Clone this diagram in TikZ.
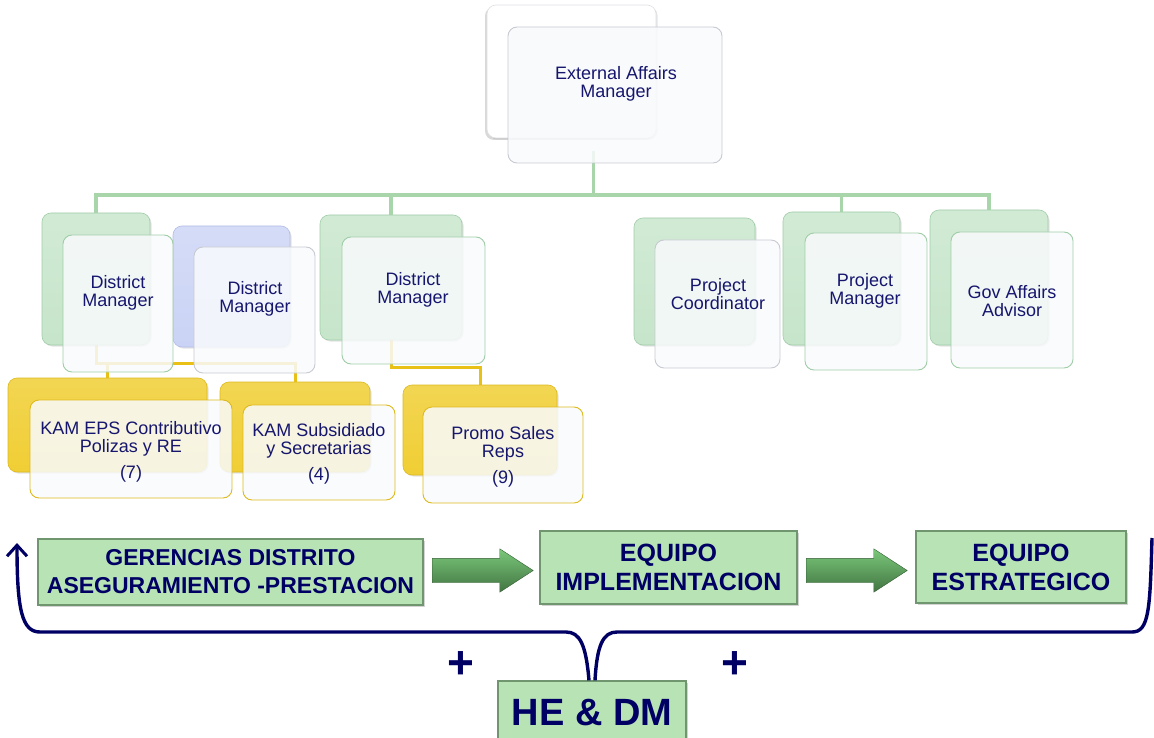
\documentclass[tikz,border=0pt]{standalone}
\usepackage{fontspec}
\setmainfont{Liberation Sans}
\usetikzlibrary{arrows.meta,positioning,shapes.arrows,calc,shadows,backgrounds}

\definecolor{heText}{RGB}{22,22,110}
\definecolor{heNavy}{RGB}{0,0,100}
\definecolor{heGreen}{RGB}{198,229,202}
\definecolor{heGreenEdge}{RGB}{160,205,168}
\definecolor{heBlue}{RGB}{202,211,245}
\definecolor{heBlueEdge}{RGB}{178,188,230}
\definecolor{heGold}{RGB}{240,206,52}
\definecolor{heGoldEdge}{RGB}{222,186,30}
\definecolor{heFront}{RGB}{248,250,252}
\definecolor{heGrayEdge}{RGB}{200,202,210}
\definecolor{heLink}{RGB}{168,214,170}
\definecolor{heGoldLink}{RGB}{232,192,22}
\definecolor{heStage}{RGB}{184,228,181}
\definecolor{heStageEdge}{RGB}{112,150,112}
\definecolor{heArrowLight}{RGB}{122,200,122}
\definecolor{heArrowDark}{RGB}{66,116,66}

\begin{document}
\begin{tikzpicture}[x=1pt, y=-1pt,
    box/.style 2 args={minimum width=#1pt, minimum height=#2pt},
    orgback/.style={rectangle, rounded corners=9pt, inner sep=0pt, line width=0.6pt,
                    drop shadow={opacity=0.22, shadow xshift=1.5pt, shadow yshift=-1.5pt}},
    greenback/.style={orgback, draw=heGreenEdge, top color=heGreen!80!white, bottom color=heGreen},
    blueback/.style={orgback, draw=heBlueEdge, top color=heBlue!80!white, bottom color=heBlue},
    goldback/.style={orgback, draw=heGoldEdge, top color=heGold!85!white, bottom color=heGold},
    grayback/.style={orgback, draw=heGrayEdge!60!white, fill=white,
                     drop shadow={opacity=0.3, shadow xshift=-2pt, shadow yshift=-2pt}},
    orgfront/.style={rectangle, rounded corners=9pt, inner sep=0pt, fill=heFront,
                     fill opacity=0.86, line width=0.9pt},
    orgtxt/.style={font=\fontsize{18}{18}\selectfont, text=heText, align=center},
    stagebox/.style={rectangle, fill=heStage, draw=heStageEdge, line width=1.2pt,
                     inner sep=0pt, font=\fontsize{25}{29}\selectfont\bfseries,
                     text=heNavy, align=center,
                     drop shadow={opacity=0.35, shadow xshift=1.5pt, shadow yshift=-1.5pt}},
    stagearrow/.style={single arrow, single arrow head extend=9.5pt,
                       single arrow tip angle=66, inner sep=12pt,
                       minimum height=101pt, top color=heArrowLight,
                       bottom color=heArrowDark, draw=heArrowDark!80!black,
                       line width=0.4pt, anchor=tail},
    plustxt/.style={font=\fontsize{46}{46}\selectfont\bfseries, text=heNavy},
    greenlink/.style={draw=heLink, line width=3.2pt},
    goldlink/.style={draw=heGoldLink, line width=3pt},
    loopline/.style={draw=heNavy, line width=3.4pt}
  ]
  \useasboundingbox (0,0) rectangle (1154,738);

  % top
  \node[grayback, box={169}{133}] (eamback) at (571.5,71.5) {};
  \node[orgfront, draw=heGrayEdge, box={214}{136}] (eam) at (615,95) {};
  \node[orgtxt] (eamtxt) at (616,84) {External Affairs\\Manager};

  % district managers
  \node[greenback, box={108}{132}] (dm1back) at (96,279) {};
  \node[blueback, box={117}{121}] (dm2back) at (231.5,286.5) {};
  \node[greenback, box={142}{125}] (dm3back) at (391,277.5) {};
  \node[orgfront, draw=heGreenEdge, box={110}{137}] (dm1) at (118,303.5) {};
  \node[orgfront, draw=heGrayEdge, box={121}{126}] (dm2) at (254.5,310) {};
  \node[orgfront, draw=heGreenEdge, box={143}{127}] (dm3) at (413.5,300.5) {};
  \node[orgtxt] (dm1txt) at (118,293) {District\\Manager};
  \node[orgtxt] (dm2txt) at (255,299) {District\\Manager};
  \node[orgtxt] (dm3txt) at (413,290) {District\\Manager};

  % key accounts and reps
  \node[goldback, box={199}{94}] (kam1back) at (107.5,425) {};
  \node[goldback, box={150}{90}] (kam2back) at (295,427) {};
  \node[goldback, box={154}{90}] (promoback) at (480,430) {};
  \node[orgfront, draw=heGoldEdge, box={202}{98}] (kam1) at (131,449) {};
  \node[orgfront, draw=heGoldEdge, box={152}{95}] (kam2) at (319,452.5) {};
  \node[orgfront, draw=heGoldEdge, box={160}{96}] (promo) at (503,455) {};
  \node[orgtxt] (kam1txt) at (131,452) {KAM EPS Contributivo\\Polizas y RE\\[8pt](7)};
  \node[orgtxt] (kam2txt) at (319,454) {KAM Subsidiado\\y Secretarias\\[8pt](4)};
  \node[orgtxt] (promotxt) at (503,457) {Promo Sales\\Reps\\[8pt](9)};

  % staff
  \node[greenback, box={121}{127}] (pcback) at (694.5,281.5) {};
  \node[greenback, box={117}{133}] (pmback) at (841.5,278.5) {};
  \node[greenback, box={118}{135}] (gaback) at (989,277.5) {};
  \node[orgfront, draw=heGrayEdge, box={125}{128}] (pc) at (717.5,304) {};
  \node[orgfront, draw=heGreenEdge, box={122}{137}] (pm) at (866,301.5) {};
  \node[orgfront, draw=heGreenEdge, box={122}{136}] (ga) at (1012,300) {};
  \node[orgtxt] (pctxt) at (718,294) {Project\\Coordinator};
  \node[orgtxt] (pmtxt) at (865,291) {Project\\Manager};
  \node[orgtxt] (gatxt) at (1012,301) {Gov Affairs\\Advisor};

  % links
  \coordinate (obus) at (0,195);
  \coordinate (kbus) at (0,363);
  \coordinate (pbus) at (0,367);
  \coordinate (eamlink) at ($(eamback.south)!.5!(eam.south)$);
  \begin{scope}[on background layer]
    \draw[greenlink] (dm1back.north) |- (obus -| gaback.north) -- (gaback.north);
    \draw[greenlink] (eamlink) -- (eamlink |- obus);
    \draw[greenlink] (dm3back.north) -- (dm3back.north |- obus);
    \draw[greenlink] (pmback.north) -- (pmback.north |- obus);
    \draw[goldlink] (dm1back.south) |- (kbus -| kam2back.north) -- (kam2back.north);
    \draw[goldlink] (kam1back.north) -- (kam1back.north |- kbus);
    \draw[goldlink] (dm3back.south) |- (pbus -| promoback.north) -- (promoback.north);
  \end{scope}

  % stages
  \node[stagebox, box={385}{66}, font=\fontsize{23}{28}\selectfont\bfseries] (ger) at (230.5,572)
    {GERENCIAS DISTRITO\\ASEGURAMIENTO -PRESTACION};
  \node[stagebox, box={257}{73}] (imp) at (668.5,567.5) {EQUIPO\\IMPLEMENTACION};
  \node[stagebox, box={210}{72}] (est) at (1021,567) {EQUIPO\\ESTRATEGICO};
  \node[stagearrow] (arr1) at (432,570.5) {};
  \node[stagearrow] (arr2) at (806,570.5) {};

  \node[stagebox, box={188}{64}, font=\fontsize{38}{40}\selectfont\bfseries] (heb) at (592,713) {HE \& DM};
  \node[plustxt] (plusL) at (461,665) {+};
  \node[plustxt] (plusR) at (735,665) {+};

  % loop back
  \coordinate (loopL) at (17,543);
  \coordinate (loopR) at (1152,538);
  \draw[loopline, -{Straight Barb[length=11pt,width=20pt,line width=3pt]}] ([xshift=-3pt]heb.north)
    .. controls (586,645) and (580,632) .. (566,632) -- (40,632)
    .. controls (22,632) and (17,610) .. (loopL);
  \draw[loopline] ([xshift=3pt]heb.north)
    .. controls (597,645) and (603,632) .. (617,632) -- (1132,632)
    .. controls (1149,632) and (1150,610) .. (loopR);
\end{tikzpicture}
\end{document}
